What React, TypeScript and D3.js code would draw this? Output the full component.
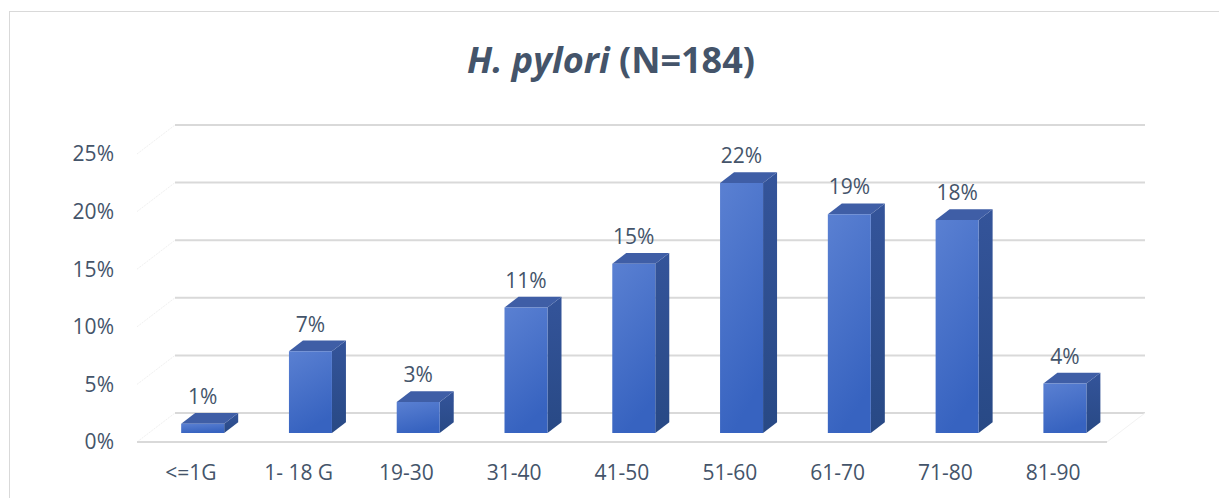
import React from "react";
import * as d3 from "d3";

const categories = ["<=1G", "1- 18 G", "19-30", "31-40", "41-50", "51-60", "61-70", "71-80", "81-90"];
const values = [0.8, 7.1, 2.7, 10.9, 14.7, 21.7, 19.0, 18.5, 4.3];
const valueLabels = ["1%", "7%", "3%", "11%", "15%", "22%", "19%", "18%", "4%"];
const yTicks = [0, 5, 10, 15, 20, 25];

const W = 1219;
const H = 498;
const DX = 38;
const DY = 29;
const Z0 = 0.31;
const BAR_W = 43;
const BAR_D = 14 / DX;
const TEXT = "#44546A";
const FONT = "'Open Sans', sans-serif";

export default function App() {
  const x = d3.scaleBand<string>().domain(categories).range([137, 1107]).paddingInner(0).paddingOuter(0);
  const y = d3.scaleLinear().domain([0, 25]).range([442, 154]);
  const P = (px: number, v: number, z: number): [number, number] => [px + z * DX, y(v) - z * DY];
  const pts = (a: [number, number][]) => a.map((p) => p.join(",")).join(" ");
  const [x0, x1] = x.range();

  return (
    <svg width={W} height={H} style={{ position: "absolute", left: 0, top: 0 }}>
      <defs>
        <linearGradient id="front" x1="0" y1="0" x2="0.3" y2="1">
          <stop offset="0" stopColor="#5A80D2" />
          <stop offset="1" stopColor="#3763C0" />
        </linearGradient>
        <linearGradient id="side" x1="0" y1="0" x2="0" y2="1">
          <stop offset="0" stopColor="#34549A" />
          <stop offset="1" stopColor="#284985" />
        </linearGradient>
      </defs>
      <rect x={0} y={0} width={W} height={H} fill="#fff" />
      <line x1={9.5} y1={11} x2={9.5} y2={H} stroke="#D9D9D9" strokeWidth={1} />
      <line x1={9} y1={11.5} x2={W} y2={11.5} stroke="#D9D9D9" strokeWidth={1} />

      <text x={611} y={73} textAnchor="middle" fill={TEXT} fontFamily={FONT} fontWeight="bold" fontSize={36}>
        <tspan fontStyle="italic">H. pylori</tspan>
        <tspan> (N=184)</tspan>
      </text>

      {yTicks.map((t) => {
        const a = P(x0, t, 0);
        const b = P(x0, t, 1);
        const c = P(x1, t, 1);
        return (
          <g key={t}>
            <line x1={a[0]} y1={a[1]} x2={b[0]} y2={b[1]} stroke="#F0F0F0" strokeWidth={1} strokeDasharray="2,1" />
            <line x1={b[0]} y1={b[1]} x2={c[0]} y2={c[1]} stroke="#D9D9D9" strokeWidth={2} />
            <text x={114} y={a[1]} dy="0.35em" textAnchor="end" fill={TEXT} fontFamily={FONT} fontSize={21}>
              {t}%
            </text>
          </g>
        );
      })}
      <line x1={x0} y1={y(0)} x2={x1} y2={y(0)} stroke="#D9D9D9" strokeWidth={2} />
      <line x1={x1} y1={y(0)} x2={x1 + DX} y2={y(0) - DY} stroke="#F2F2F2" strokeWidth={1} />

      {categories.map((c, i) => {
        const cx = (x(c) as number) + x.bandwidth() / 2;
        const v = values[i];
        const l = cx - BAR_W / 2;
        const r = cx + BAR_W / 2;
        const fBL = P(l, 0, Z0), fBR = P(r, 0, Z0), fTL = P(l, v, Z0), fTR = P(r, v, Z0);
        const bTL = P(l, v, Z0 + BAR_D), bTR = P(r, v, Z0 + BAR_D), bBR = P(r, 0, Z0 + BAR_D);
        return (
          <g key={c}>
            <polygon points={pts([fTR, bTR, bBR, fBR])} fill="url(#side)" />
            <polygon points={pts([fTL, bTL, bTR, fTR])} fill="#3F5EA6" />
            <polygon points={pts([fTL, fTR, fBR, fBL])} fill="url(#front)" />
            <text x={cx + Z0 * DX} y={bTL[1] - 9} textAnchor="middle" fill={TEXT} fontFamily={FONT} fontSize={21}>
              {valueLabels[i]}
            </text>
            <text x={cx} y={473} dy="0.35em" textAnchor="middle" fill={TEXT} fontFamily={FONT} fontSize={21}>
              {c}
            </text>
          </g>
        );
      })}
    </svg>
  );
}
